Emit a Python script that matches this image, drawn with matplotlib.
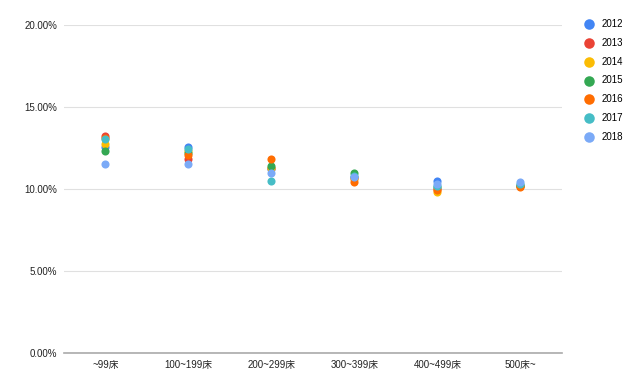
import matplotlib
matplotlib.use('Agg')
import matplotlib.pyplot as plt
from matplotlib.ticker import FuncFormatter

plt.rcParams['font.family'] = ['Liberation Sans', 'Noto Sans CJK JP']

categories = ['~99床', '100~199床', '200~299床', '300~399床', '400~499床', '500床~']
years = ['2012', '2013', '2014', '2015', '2016', '2017', '2018']
colors = ['#4285F4', '#EA4335', '#FBBC04', '#34A853', '#FF6D01', '#46BDC6', '#7BAAF7']

# ratio (%) per year, one value per bed-size category
v2012 = [12.55, 12.55, 11.20, 10.75, 10.50, 10.25]
v2013 = [13.20, 11.85, 11.30, 10.65, 10.00, 10.20]
v2014 = [12.75, 12.30, 11.30, 10.60, 9.80, 10.15]
v2015 = [12.30, 12.20, 11.40, 11.00, 10.10, 10.20]
v2016 = [13.10, 12.10, 11.85, 10.40, 9.95, 10.10]
v2017 = [13.05, 12.45, 10.50, 10.80, 10.20, 10.30]
v2018 = [11.50, 11.50, 11.00, 10.70, 10.30, 10.40]
series = [v2012, v2013, v2014, v2015, v2016, v2017, v2018]

fig = plt.figure(figsize=(6.4, 3.79), dpi=100)
ax = fig.add_axes([0.1, 0.069, 0.778, 0.865])

x = range(len(categories))
for yr, vals, c in zip(years, series, colors):
    ax.scatter(x, vals, s=34, color=c, label=yr, zorder=3, linewidths=0)

ax.set_xlim(-0.5, len(categories) - 0.5)
ax.set_ylim(0, 20)
ax.set_yticks([0, 5, 10, 15, 20])
ax.yaxis.set_major_formatter(FuncFormatter(lambda v, p: f'{v:.2f}%'))
ax.set_xticks(list(x))
ax.set_xticklabels(categories)
ax.grid(axis='y', color='#e0e0e0', linewidth=0.8, zorder=0)
for s in ['top', 'right', 'left']:
    ax.spines[s].set_visible(False)
ax.spines['bottom'].set_color('#aaaaaa')
ax.spines['bottom'].set_linewidth(1.2)
ax.tick_params(axis='both', length=0, labelsize=7, colors='#222222', pad=5)

leg = ax.legend(loc='upper left', bbox_to_anchor=(1.018, 1.045), frameon=False,
                fontsize=7, handletextpad=0.3, labelspacing=0.9, markerscale=1.3)

fig.savefig('out.png', dpi=100)
